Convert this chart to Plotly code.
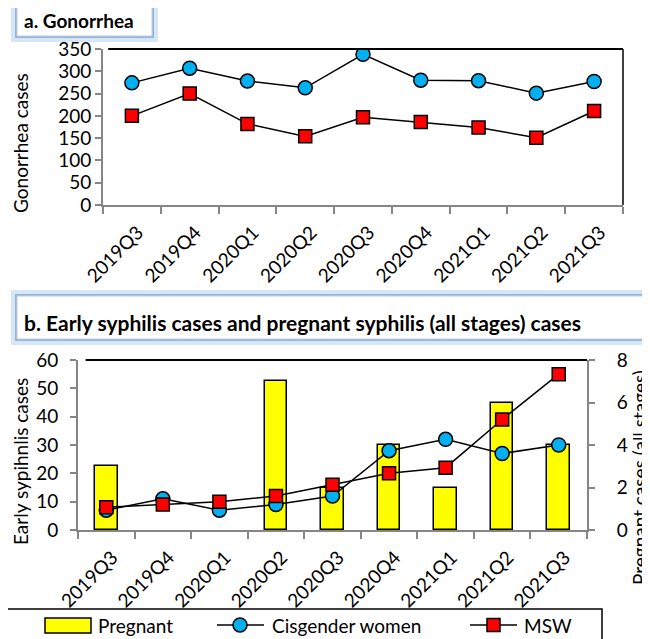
import plotly.graph_objects as go

categories = ["2019Q3", "2019Q4", "2020Q1", "2020Q2", "2020Q3", "2020Q4", "2021Q1", "2021Q2", "2021Q3"]
gon_cis = [274, 307, 278, 263, 338, 280, 279, 251, 277]
gon_msw = [200, 250, 182, 154, 197, 186, 174, 151, 211]
preg = [3, 0, 0, 7, 2, 4, 2, 6, 4]
syph_cis = [7, 11, 7, 9, 12, 28, 32, 27, 30]
syph_msw = [8, 9, 10, 12, 16, 20, 22, 39, 55]

# the page body has an 8px margin, so the figure is 642x631 and offset by 8px
OFF = 8
W, H = 650 - OFF, 639 - OFF
FONT = "Lato"
AX = "#868686"
BLUE = "#00B0F0"
RED = "#FF0000"
YEL = "#FFFF00"


def px(x):
    return (x - OFF) / W


def py(y):
    return 1 - (y - OFF) / H


line_style = dict(color="black", width=1.5)
circ = dict(symbol="circle", size=14, color=BLUE, line=dict(color="black", width=1.5))
sq = dict(symbol="square", size=13, color=RED, line=dict(color="black", width=1.5))

fig = go.Figure()
fig.add_trace(go.Scatter(x=categories, y=gon_cis, xaxis="x", yaxis="y", mode="lines+markers",
                         line=line_style, marker=circ, name="Cisgender women", showlegend=False))
fig.add_trace(go.Scatter(x=categories, y=gon_msw, xaxis="x", yaxis="y", mode="lines+markers",
                         line=line_style, marker=sq, name="MSW", showlegend=False))
fig.add_trace(go.Bar(x=categories, y=preg, xaxis="x2", yaxis="y2", width=0.4,
                     marker=dict(color=YEL, line=dict(color="black",
                                                      width=[1.5 if v else 0 for v in preg])),
                     name="Pregnant", showlegend=False))
fig.add_trace(go.Scatter(x=categories, y=syph_cis, xaxis="x2", yaxis="y3", mode="lines+markers",
                         line=line_style, marker=circ, name="Cisgender women", showlegend=False))
fig.add_trace(go.Scatter(x=categories, y=syph_msw, xaxis="x2", yaxis="y3", mode="lines+markers",
                         line=line_style, marker=sq, name="MSW", showlegend=False))

xcommon = dict(type="category", range=[-0.5, 8.5], showline=True, linecolor=AX, linewidth=2,
               ticks="outside", tickson="boundaries", ticklen=7, tickcolor=AX, tickwidth=2,
               tickangle=-45, tickfont=dict(family=FONT, size=19, color="black"),
               ticklabelstandoff=7, ticklabelshift=6,
               showgrid=False, zeroline=False, fixedrange=True, automargin=False)
ycommon = dict(showline=True, linecolor=AX, linewidth=2, ticks="outside", ticklen=6,
               tickcolor=AX, tickwidth=2, showgrid=False, zeroline=False,
               tickfont=dict(family=FONT, size=19, color="black"), fixedrange=True,
               automargin=False)

fig.update_layout(
    width=W, height=H, margin=dict(l=0, r=0, t=0, b=0, pad=0),
    paper_bgcolor="white", plot_bgcolor="white",
    font=dict(family=FONT, color="black"),
    bargap=0,
    xaxis=dict(domain=[px(103), px(623)], anchor="y", **xcommon),
    yaxis=dict(domain=[py(205), py(49)], anchor="x", range=[0, 350], dtick=50, **ycommon),
    xaxis2=dict(domain=[px(78), px(587)], anchor="y2", **xcommon),
    yaxis2=dict(domain=[py(530), py(360)], anchor="x2", side="right", range=[0, 8], dtick=2,
                ticklabelstandoff=18, **ycommon),
    yaxis3=dict(overlaying="y2", anchor="x2", side="left", range=[0, 60], dtick=10,
                ticklabelstandoff=8, **ycommon),
)

shapes = []
# plot borders
shapes.append(dict(type="line", xref="x domain", yref="y domain", x0=0.01, x1=1, y0=1, y1=1,
                   line=dict(color="black", width=2)))
shapes.append(dict(type="line", xref="x domain", yref="y domain", x0=1, x1=1, y0=0, y1=1,
                   line=dict(color="black", width=1.5)))
shapes.append(dict(type="line", xref="x2 domain", yref="y2 domain", x0=0.015, x1=1, y0=1, y1=1,
                   line=dict(color="black", width=2)))


def title_box(x0, y0, x1, y1):
    out = []
    out.append(dict(type="rect", xref="paper", yref="paper", x0=px(x0 - 2), x1=px(x1 + 2),
                    y0=py(y1 + 2), y1=py(y0 - 2), line=dict(color="rgba(91,155,213,0.25)", width=6),
                    fillcolor="rgba(0,0,0,0)", layer="above"))
    out.append(dict(type="rect", xref="paper", yref="paper", x0=px(x0), x1=px(x1),
                    y0=py(y1), y1=py(y0), line=dict(color="rgba(120,170,225,0.8)", width=2),
                    fillcolor="white", layer="above"))
    out.append(dict(type="rect", xref="paper", yref="paper", x0=px(x0 + 1), x1=px(x1 - 1),
                    y0=py(y1 - 1), y1=py(y0 + 1), line=dict(color="#C8C8C8", width=1),
                    fillcolor="white", layer="above"))
    return out


shapes += title_box(16, 6, 153, 37)
shapes += title_box(16, 295, 672, 340)

# legend
LY = 625
shapes.append(dict(type="rect", xref="paper", yref="paper", x0=px(3), x1=px(602), y0=py(650), y1=py(609),
                   line=dict(color="black", width=1.5), fillcolor="white"))
shapes.append(dict(type="rect", xref="paper", yref="paper", x0=px(45), x1=px(91), y0=py(LY + 8), y1=py(LY - 7),
                   line=dict(color="black", width=1.5), fillcolor=YEL))
shapes.append(dict(type="line", xref="paper", yref="paper", x0=px(217), x1=px(264), y0=py(LY), y1=py(LY),
                   line=dict(color="black", width=1.5)))
shapes.append(dict(type="circle", xref="paper", yref="paper", x0=px(233), x1=px(247), y0=py(LY + 7), y1=py(LY - 7),
                   line=dict(color="black", width=1.5), fillcolor=BLUE))
shapes.append(dict(type="line", xref="paper", yref="paper", x0=px(470), x1=px(517), y0=py(LY), y1=py(LY),
                   line=dict(color="black", width=1.5)))
shapes.append(dict(type="rect", xref="paper", yref="paper", x0=px(487), x1=px(500), y0=py(LY + 6.5), y1=py(LY - 6.5),
                   line=dict(color="black", width=1.5), fillcolor=RED))

annotations = [
    dict(text="<b>a. Gonorrhea</b>", x=px(22), y=py(21), xanchor="left", yanchor="middle",
         font=dict(family=FONT, size=19)),
    dict(text="<b>b. Early syphilis cases and pregnant syphilis (all stages) cases</b>", x=px(22), y=py(322),
         xanchor="left", yanchor="middle", font=dict(family=FONT, size=21)),
    dict(text="Gonorrhea cases", x=px(20), y=py(143), textangle=-90, xanchor="center", yanchor="middle",
         font=dict(family=FONT, size=19)),
    dict(text="Early sypihnlis cases", x=px(20), y=py(462), textangle=-90, xanchor="center", yanchor="middle",
         font=dict(family=FONT, size=19)),
    dict(text="Pregnant cases (all stages)", x=px(639), y=py(478), textangle=-90, xanchor="center",
         yanchor="middle", font=dict(family=FONT, size=19)),
    dict(text="Pregnant", x=px(96), y=py(LY), xanchor="left", yanchor="middle", font=dict(family=FONT, size=19)),
    dict(text="Cisgender women", x=px(270), y=py(LY), xanchor="left", yanchor="middle",
         font=dict(family=FONT, size=19)),
    dict(text="MSW", x=px(522), y=py(LY), xanchor="left", yanchor="middle", font=dict(family=FONT, size=19)),
]
for a in annotations:
    a.update(xref="paper", yref="paper", showarrow=False)

fig.update_layout(shapes=shapes, annotations=annotations)
fig.write_html("out.html")
